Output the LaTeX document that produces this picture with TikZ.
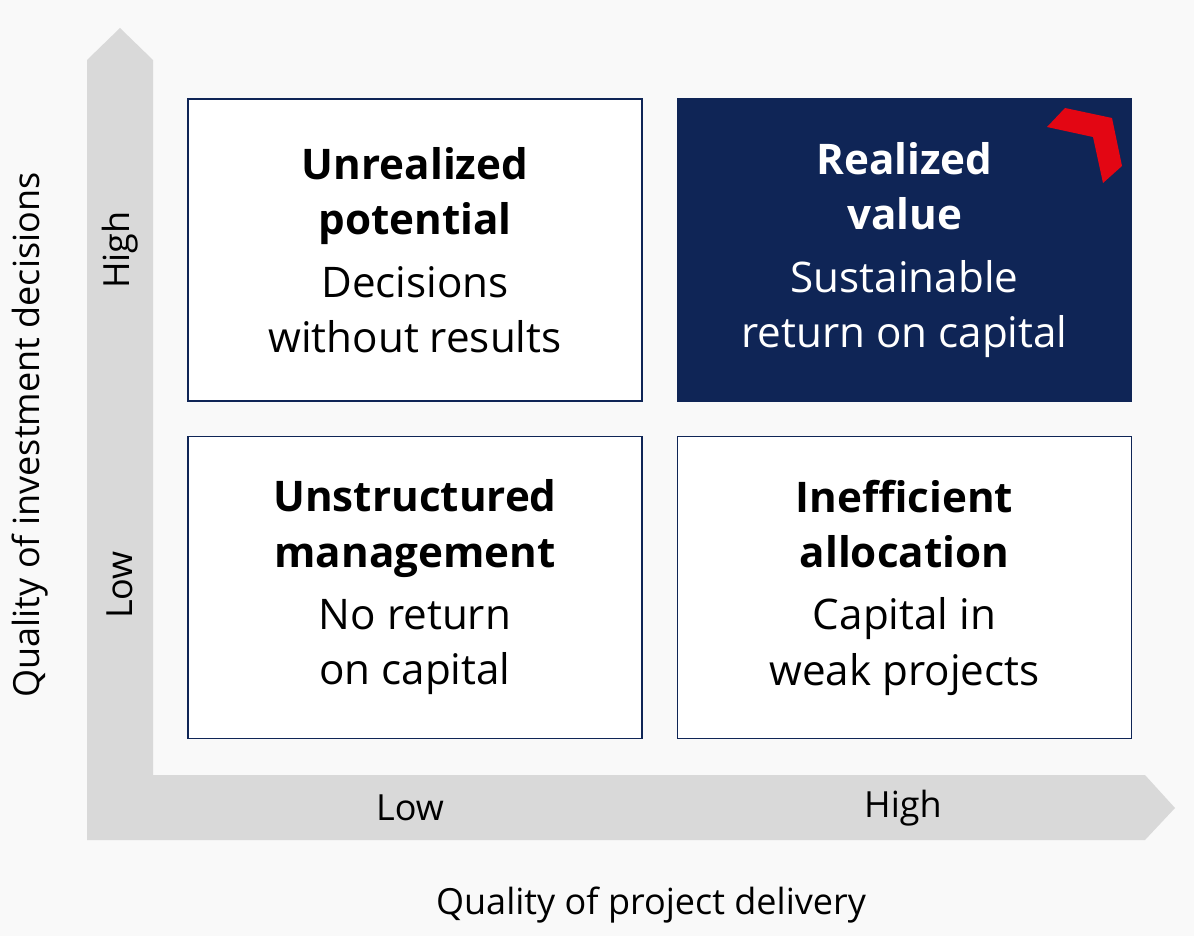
\documentclass[tikz,border=0pt]{standalone}
\usepackage{fontspec}
\setmainfont{Open Sans}
\definecolor{navy}{HTML}{0F2556}
\definecolor{axisgray}{HTML}{D9D9D9}
\definecolor{bg}{HTML}{F9F9F9}
\definecolor{mred}{HTML}{E30613}
\tikzset{
  quad/.style={draw=navy, line width=1pt, fill=white, minimum width=9.08cm, minimum height=6.04cm, inner sep=0pt},
  qtext/.style={align=center, font=\fontsize{24}{31.5}\selectfont},
  axlbl/.style={font=\fontsize{20.5}{24}\selectfont}
}
\begin{document}
\begin{tikzpicture}[x=0.02cm, y=-0.02cm]
    \fill[bg] (0,0) rectangle (1194,936);
    \useasboundingbox (0,0) rectangle (1194,936);
    % L-shaped axes
    \fill[axisgray] (120,28) -- (153,60) -- (153,775) -- (1145,775) -- (1175,808)
        -- (1145,840) -- (87,840) -- (87,60) -- cycle;

    % quadrants
    \node[quad] (tl) at (415,250) {};
    \node[quad, fill=navy] (tr) at (904.5,250) {};
    \node[quad] (bl) at (415,587.5) {};
    \node[quad] (br) at (904.5,587.5) {};

    \node[qtext] at (tl) {\textbf{Unrealized}\\\textbf{potential}\\[4pt]Decisions\\without results};
    \node[qtext, text=white] at (tr) {\textbf{Realized}\\\textbf{value}\\[4pt]Sustainable\\return on capital};
    \node[qtext] at (bl) {\textbf{Unstructured}\\\textbf{management}\\[4pt]No return\\on capital};
    \node[qtext] at (br) {\textbf{Inefficient}\\\textbf{allocation}\\[4pt]Capital in\\weak projects};

    % red mark
    \fill[mred] (1047,127) -- (1065,108) -- (1112,118) -- (1122,166) -- (1103,183) -- (1093,137) -- cycle;

    % axis labels
    \node[axlbl, rotate=90] (yhigh) at (120,250) {High};
    \node[axlbl, rotate=90] (ylow) at (120,585) {Low};
    \node[axlbl] (xlow) at (410,808) {Low};
    \node[axlbl] (xhigh) at (903,808) {High};
    \node[axlbl, rotate=90] (ytitle) at (30,435) {Quality of investment decisions};
    \node[axlbl] (xtitle) at (651,905) {Quality of project delivery};
\end{tikzpicture}
\end{document}
